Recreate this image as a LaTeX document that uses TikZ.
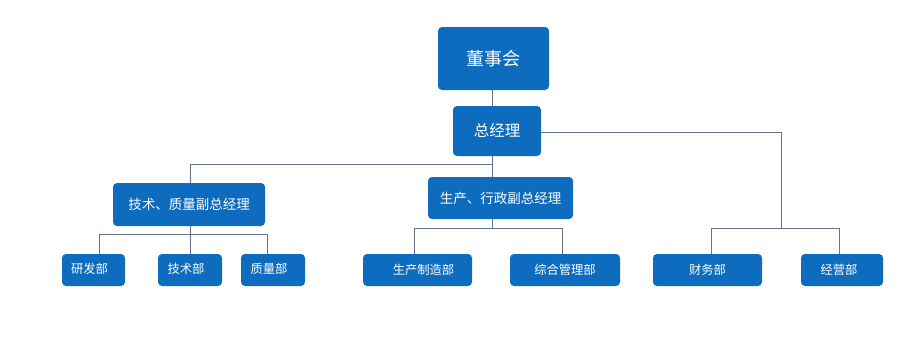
\documentclass[tikz,border=0pt]{standalone}
\usepackage{fontspec}
\setmainfont{Noto Sans CJK SC}
\definecolor{boxblue}{RGB}{14,108,190}
\definecolor{linegray}{RGB}{96,114,140}
\begin{document}
\begin{tikzpicture}[x=1pt,y=-1pt,
  box/.style={draw=none,fill=boxblue,rounded corners=4pt,text=white,inner sep=0pt,anchor=center},
  conn/.style={draw=linegray,line width=0.8pt}]
\useasboundingbox[fill=white] (0,0) rectangle (922,364);
% boxes
\node[box,minimum width=111pt,minimum height=63pt,font=\fontsize{18}{20}\selectfont] (board) at (493.5,58.5) {董事会};
\node[box,minimum width=88pt,minimum height=50pt,font=\fontsize{15.5}{18}\selectfont] (gm) at (497,131) {总经理};
\node[box,minimum width=152pt,minimum height=43pt,font=\fontsize{13.5}{16}\selectfont] (vp1) at (189,204.5) {技术、质量副总经理};
\node[box,minimum width=145pt,minimum height=42pt,font=\fontsize{13.5}{16}\selectfont] (vp2) at (500.5,198) {生产、行政副总经理};
\tikzset{dept/.style={box,minimum height=32pt,font=\fontsize{12.3}{14}\selectfont}}
\node[dept,minimum width=63pt] (rd) at (93.5,270) {\raisebox{3pt}{研发部\hspace{8pt}}};
\node[dept,minimum width=64pt] (tech) at (190,270) {\raisebox{3pt}{技术部\hspace{8pt}}};
\node[dept,minimum width=64pt] (qual) at (273,270) {\raisebox{3pt}{质量部\hspace{8pt}}};
\node[dept,minimum width=109pt] (prod) at (417.5,270) {\hspace{12pt}生产制造部};
\node[dept,minimum width=110pt] (admin) at (565,270) {综合管理部};
\node[dept,minimum width=109pt] (fin) at (707.5,270) {财务部};
\node[dept,minimum width=82pt] (sales) at (842,270) {\hspace{-6pt}经营部};
% connectors
\coordinate (j1) at (492,164);
\coordinate (j0) at (190,164);
\coordinate (j2) at (190,234);
\coordinate (j3) at (492,228);
\coordinate (j4) at (781,228);
\draw[conn] (board.south -| j1) -- (gm.north -| j1);
\draw[conn] (gm.south -| j1) -- (j1);
\draw[conn] (vp1.north -| j0) -- (j0) -- (j1) -- (vp2.north -| j1);
\draw[conn] (gm.east |- 0,132) -- (781,132) -- (j4);
\draw[conn] (vp1.south -| j2) -- (j2);
\draw[conn] (rd.north -| 99,0) -- (99,234) -- (267,234) -- (qual.north -| 267,0);
\draw[conn] (j2) -- (tech.north -| j2);
\draw[conn] (vp2.south -| j3) -- (j3);
\draw[conn] (prod.north -| 414,0) -- (414,228) -- (562,228) -- (admin.north -| 562,0);
\draw[conn] (fin.north -| 711,0) -- (711,228) -- (839,228) -- (sales.north -| 839,0);
\end{tikzpicture}
\end{document}
